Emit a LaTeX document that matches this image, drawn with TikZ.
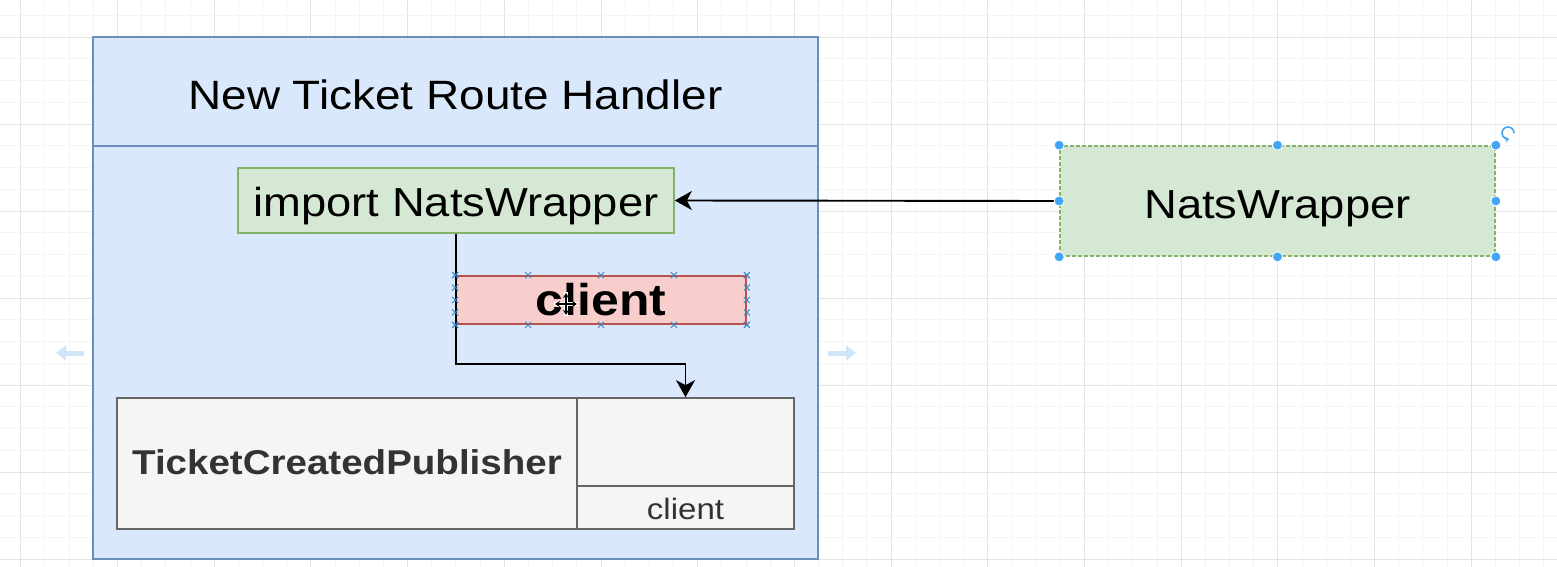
\documentclass[tikz,border=0pt]{standalone}
\usepackage{fontspec}
\setmainfont{Liberation Sans}[FakeStretch=1.12]
\usetikzlibrary{arrows.meta,calc}
\definecolor{hdlfill}{HTML}{DAE8FC}
\definecolor{hdlline}{HTML}{6C8EBF}
\definecolor{natsfill}{HTML}{D5E8D4}
\definecolor{natsline}{HTML}{82B366}
\definecolor{clfill}{HTML}{F8CECC}
\definecolor{clline}{HTML}{B85450}
\definecolor{pubfill}{HTML}{F5F5F5}
\definecolor{publine}{HTML}{666666}
\definecolor{pubtext}{HTML}{333333}
\definecolor{selblue}{HTML}{42A5F5}
\definecolor{hoverblue}{HTML}{CFE5FA}

\begin{document}
\begin{tikzpicture}[x=1pt,y=-1pt,line width=1.7pt,
  txt/.style={inner sep=0pt,text depth=8pt},
  box/.style={txt,draw,rectangle},
  hdlbox/.style={box,fill=hdlfill,draw=hdlline},
  natsbox/.style={box,fill=natsfill,draw=natsline,font=\fontsize{40.5}{48}\selectfont},
  clbox/.style={box,fill=clfill,draw=clline,font=\bfseries\fontsize{44.5}{52}\selectfont},
  pubbox/.style={box,fill=pubfill,draw=publine,text=pubtext},
  conn/.style={line width=1.9pt,-{Stealth[length=17pt,width=19pt,inset=5pt]}},
  minorgrid/.style={line width=.8pt,black!4},
  majorgrid/.style={line width=.8pt,black!11},
  handle/.style={fill=selblue,draw=white,line width=.8pt},
  xmark/.style={selblue!80!black,line width=.9pt},
  hover/.style={line width=5pt,hoverblue,-{Triangle[length=10pt,width=15pt]}}]
  \useasboundingbox (0,0) rectangle (1557,567);
  % grid
  \foreach \i in {0,...,63}
    \pgfmathparse{mod(\i,4)==0 ? "majorgrid" : "minorgrid"}
    \draw[\pgfmathresult] ({20.7+24.175*\i},0) -- ++(0,567);
  \foreach \j in {0,...,26}
    \pgfmathparse{mod(\j,4)==1 ? "majorgrid" : "minorgrid"}
    \draw[\pgfmathresult] (0,{15.25+21.75*\j}) -- ++(1557,0);
  % route handler
  \node[hdlbox,minimum width=725,minimum height=522] (handler) at (455.5,298) {};
  \coordinate (hdr) at (0,146);
  \draw[hdlline] (handler.west |- hdr) -- (handler.east |- hdr);
  \node[txt,text height=44pt,font=\fontsize{41}{48}\selectfont] (title) at (455.5,91.5) {New Ticket Route Handler};
  \node[natsbox,text height=40.4pt,minimum width=436,minimum height=65] (imp) at (456,200.5) {import NatsWrapper};
  \node[clbox,text height=38pt,minimum width=290,minimum height=48] (cl) at (601,300) {client};
  % publisher
  \node[pubbox,text height=29pt,minimum width=460,minimum height=131,
    font=\bfseries\fontsize{34.4}{40}\selectfont] (pubname) at (347,463.5) {TicketCreatedPublisher};
  \node[pubbox,minimum width=217,minimum height=88] (slot) at (685.5,442) {};
  \node[pubbox,text height=31.6pt,minimum width=217,minimum height=43,
    font=\fontsize{29.5}{34}\selectfont] (field) at (685.5,507.5) {client};
  % wrapper
  \node[natsbox,text height=42.6pt,dashed,dash pattern=on 4pt off 2pt,minimum width=435,minimum height=110] (nats) at (1277.5,201) {NatsWrapper};
  \draw[conn] (nats.west) -- (imp.east);
  \draw[conn] (imp.south) -- ++(0,130) -| (slot.north);
  % selection marks
  \foreach \a in {north west,north,north east,east,south east,south,south west,west}
    \draw[handle] (nats.\a) circle (5);
  \draw[selblue,line width=1.6pt,-{Stealth[length=4pt,width=6pt]}] (1514,133) arc (0:-280:6);
  \foreach \f in {0,0.25,0.5,0.75,1}
    \foreach \s/\t in {north west/north east,south west/south east,north west/south west,north east/south east}
      \draw[xmark] ($(cl.\s)!\f!(cl.\t)$) ++(-3,-3) -- ++(6,6) ++(-6,0) -- ++(6,-6);
  \draw[white,line width=3.5pt] (554,304) -- (578,304) (566,292) -- (566,316);
  \draw[black,line width=1.4pt,{Stealth[length=5pt,width=6pt]}-{Stealth[length=5pt,width=6pt]}] (555,304) -- (577,304);
  \draw[black,line width=1.4pt,{Stealth[length=5pt,width=6pt]}-{Stealth[length=5pt,width=6pt]}] (566,293) -- (566,315);
  % hover arrows
  \draw[hover] (84,353) -- (56,353);
  \draw[hover] (828,353) -- (856,353);
\end{tikzpicture}
\end{document}
